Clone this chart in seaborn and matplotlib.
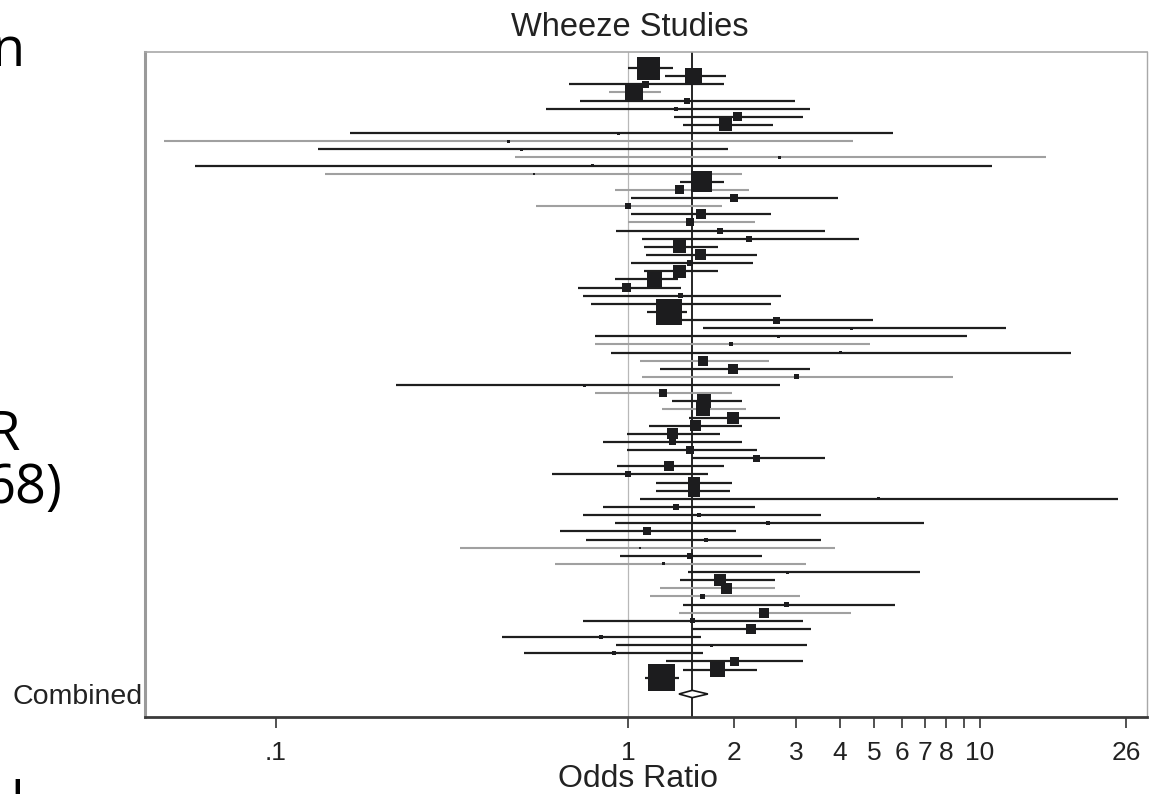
import numpy as np
import pandas as pd
import matplotlib
matplotlib.use("Agg")
import matplotlib.pyplot as plt
from matplotlib.ticker import NullLocator
import seaborn as sns

# ---------------- data ----------------
odds_ratio = [1.147, 1.536, 1.121, 1.040, 1.467, 1.369, 2.053, 1.898, 0.940, 0.458,
              0.500, 2.698, 0.795, 0.540, 1.623, 1.405, 2.000, 1.000, 1.609, 1.500,
              1.825, 2.207, 1.401, 1.609, 1.505, 1.401, 1.189, 0.993, 1.414, 1.288,
              1.304, 2.642, 4.317, 2.685, 1.961, 4.003, 1.633, 1.987, 3.009, 0.755,
              1.257, 1.644, 1.629, 1.987, 1.560, 1.334, 1.337, 1.504, 2.320, 1.304,
              1.000, 1.536, 1.536, 5.151, 1.369, 1.589, 2.498, 1.135, 1.671, 1.082,
              1.500, 1.265, 2.848, 1.825, 1.911, 1.633, 2.826, 2.432, 1.527, 2.236,
              0.836, 1.726, 0.912, 2.004, 1.802, 1.243]
ci_lower = [1.000, 1.271, 0.680, 0.883, 0.733, 0.585, 1.351, 1.433, 0.162, 0.048,
            0.132, 0.478, 0.059, 0.138, 1.405, 0.918, 1.020, 0.548, 1.020, 1.000,
            0.924, 1.093, 1.110, 1.125, 1.020, 1.110, 0.918, 0.721, 0.743, 0.785,
            1.135, 1.401, 1.629, 0.804, 0.804, 0.894, 1.080, 1.233, 1.093, 0.219,
            0.804, 1.337, 1.249, 1.490, 1.147, 0.997, 0.849, 0.997, 1.517, 0.928,
            0.609, 1.204, 1.204, 1.084, 0.849, 0.743, 0.918, 0.641, 0.762, 0.333,
            0.949, 0.620, 1.481, 1.405, 1.233, 1.155, 1.435, 1.400, 0.747, 1.523,
            0.438, 0.924, 0.507, 1.286, 1.435, 1.118]
ci_upper = [1.342, 1.895, 1.880, 1.245, 2.982, 3.289, 3.152, 2.575, 5.660, 4.357,
            1.923, 15.40, 10.79, 2.113, 1.880, 2.207, 3.951, 1.855, 2.549, 2.296,
            3.618, 4.522, 1.802, 2.320, 2.265, 1.802, 1.387, 1.418, 2.721, 2.549,
            1.471, 4.966, 11.84, 9.190, 4.857, 18.09, 2.522, 3.289, 8.380, 2.698,
            1.974, 2.108, 2.164, 2.698, 2.113, 1.825, 2.113, 2.320, 3.620, 1.880,
            1.685, 1.977, 1.949, 24.58, 2.289, 3.543, 6.913, 2.027, 3.543, 3.873,
            2.403, 3.204, 6.755, 2.616, 2.616, 3.081, 5.742, 4.295, 3.152, 3.315,
            1.611, 3.223, 1.631, 3.152, 2.328, 1.400]
study_weight = [23, 17, 7, 18, 6, 4, 9, 13, 3, 3,
                3, 3, 3, 2, 21, 9, 8, 6, 10, 8,
                6, 6, 13, 11, 6, 13, 15, 9, 5, 4,
                26, 7, 3, 3, 4, 3, 10, 10, 5, 3,
                8, 14, 14, 12, 11, 11, 7, 8, 7, 10,
                6, 12, 12, 3, 6, 4, 4, 8, 4, 2,
                6, 3, 3, 12, 11, 5, 5, 10, 5, 10,
                4, 3, 4, 9, 15, 27]
light_ci = [0, 0, 0, 1, 0, 0, 0, 0, 0, 1,
            0, 1, 0, 1, 0, 1, 0, 1, 0, 1,
            0, 0, 0, 0, 0, 0, 0, 0, 0, 0,
            0, 0, 0, 0, 1, 0, 1, 0, 1, 0,
            1, 0, 1, 0, 0, 0, 0, 0, 0, 0,
            0, 0, 0, 0, 0, 0, 0, 0, 0, 1,
            0, 1, 0, 0, 1, 1, 0, 1, 0, 0,
            0, 0, 0, 0, 0, 0]
combined_or = 1.523
combined_lo = 1.396
combined_hi = 1.687
combined_label = "Combined"

tick_values = [0.1, 1, 2, 3, 4, 5, 6, 7, 8, 9, 10, 26]
tick_labels = [".1", "1", "2", "3", "4", "5", "6", "7", "8", "", "10", "26"]

title_text = "Wheeze Studies"
xlabel_text = "Odds Ratio"
side_fragments = ["n", "R", "68)", "l"]

# ---------------- build frame ----------------
n = len(odds_ratio)
df = pd.DataFrame({
    "row": np.arange(n),
    "or": odds_ratio,
    "lo": ci_lower,
    "hi": ci_upper,
    "w": study_weight,
    "light": light_ci,
})
combined_row = n + 1

# ---------------- figure ----------------
sns.set_theme(style="white")
plt.rcParams['font.family'] = ['Liberation Sans', 'DejaVu Sans']

W, H = 1149, 794
fig = plt.figure(figsize=(W / 100, H / 100), dpi=100)
ax = fig.add_axes([145 / W, 77 / H, 1002 / W, 665 / H])
ax.set_xscale("log")
ax.set_xlim(0.0425, 29.8)
ax.set_ylim(79.83, -1.97)

# reference lines
ax.axvline(1, color="#b8b8b8", lw=0.9, zorder=1)
ax.axvline(combined_or, color="#151515", lw=1.3, zorder=1.5)

# confidence intervals
dark = df[df.light == 0]
light = df[df.light == 1]
ax.hlines(light.row, light.lo, light.hi, color="#a0a0a0", lw=1.5, zorder=2)
ax.hlines(dark.row, dark.lo, dark.hi, color="#1e1e1e", lw=1.6, zorder=2.1)

# study boxes
sns.scatterplot(data=df, x="or", y="row", marker="s",
                s=(df.w.to_numpy() * 0.72) ** 2, color="#1c1c1e",
                linewidth=0, legend=False, ax=ax, zorder=3)

# combined diamond
h = 0.45
ax.fill([combined_lo, combined_or, combined_hi, combined_or],
        [combined_row, combined_row - h, combined_row, combined_row + h],
        facecolor="white", edgecolor="#151515", lw=1.2, zorder=4)

# axes styling
for side, col, lw in [("left", "#9a9a9a", 2.2), ("top", "#a8a8a8", 1.2),
                      ("right", "#a8a8a8", 1.0), ("bottom", "#3a3a3a", 2.0)]:
    ax.spines[side].set_visible(True)
    ax.spines[side].set_color(col)
    ax.spines[side].set_linewidth(lw)

ax.set_xticks(tick_values)
ax.set_xticklabels(tick_labels)
ax.xaxis.set_minor_locator(NullLocator())
ax.tick_params(axis="x", bottom=True, direction="out", length=8, width=1.2,
               color="#333333", labelsize=19, pad=9, labelcolor="#222222")
ax.set_yticks([combined_row])
ax.set_yticklabels([combined_label])
ax.tick_params(axis="y", left=True, length=0, pad=2, labelsize=20.5,
               labelcolor="#222222")
ax.set_xlabel("")
ax.set_ylabel("")

fig.text(630 / W, 1 - 36 / H, title_text, ha="center", va="baseline",
         fontsize=23.5, color="#222222")
fig.text(637.5 / W, 7 / H, xlabel_text, ha="center", va="baseline",
         fontsize=23, color="#222222")

# cut-off text fragments of a neighbouring panel
frag_kw = dict(fontsize=39, color="black", family=["Open Sans", "DejaVu Sans"])
fig.text(24 / W, 1 - 66 / H, side_fragments[0], ha="right", va="baseline", **frag_kw)
fig.text(20 / W, 1 - 450 / H, side_fragments[1], ha="right", va="baseline", **frag_kw)
fig.text(63 / W, 1 - 503 / H, side_fragments[2], ha="right", va="baseline", **frag_kw)
fig.text(17.5 / W, -27 / H, side_fragments[3], ha="center", va="baseline", **frag_kw)

fig.savefig("out.png", dpi=100)
